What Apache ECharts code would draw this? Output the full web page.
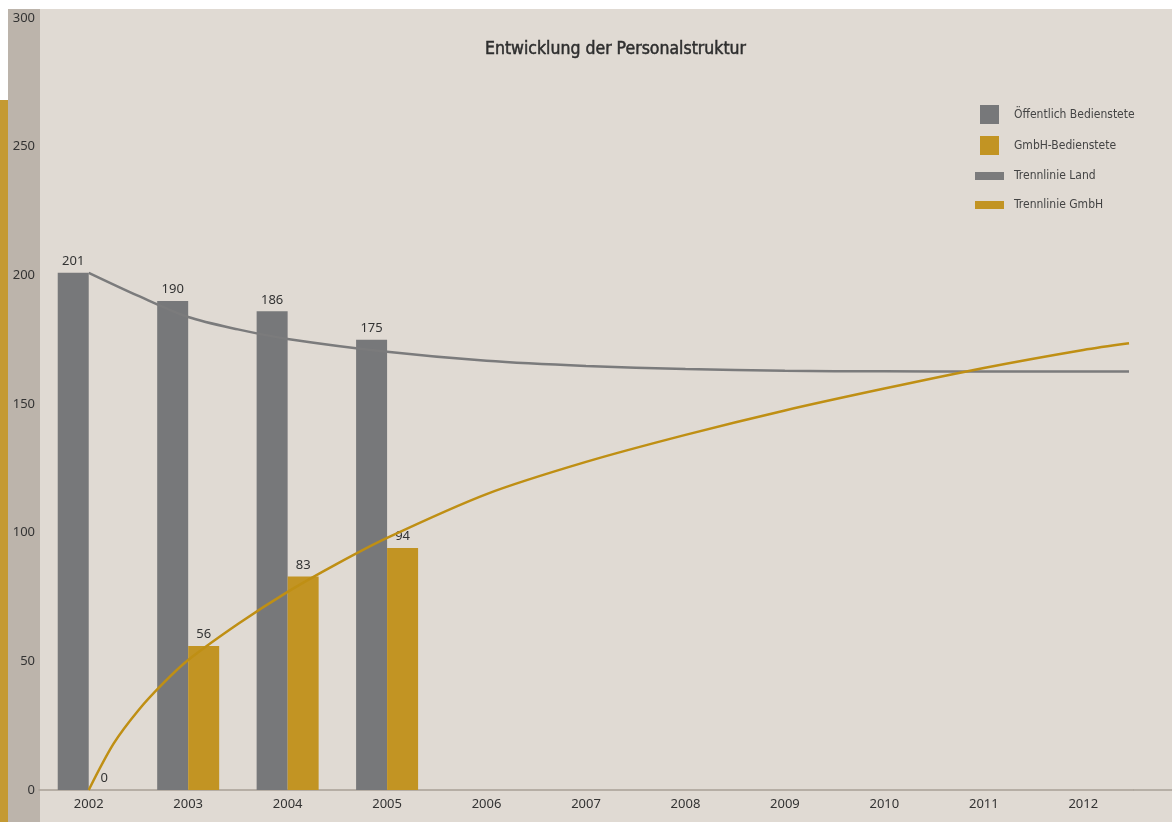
<!DOCTYPE html>
<html>
<head>
<meta charset="utf-8">
<script src="https://cdn.jsdelivr.net/npm/echarts@6/dist/echarts.min.js"></script>
<style>
html,body{margin:0;padding:0;background:#ffffff;}
#chart{width:1172px;height:822px;}
</style>
</head>
<body>
<div id="chart"></div>
<script>
const title = 'Entwicklung der Personalstruktur';
const years = ['2002','2003','2004','2005','2006','2007','2008','2009','2010','2011','2012'];
const yTicks = [0, 50, 100, 150, 200, 250, 300];
const oeffentlich = [201, 190, 186, 175, null, null, null, null, null, null, null];
const gmbh = [0, 56, 83, 94, null, null, null, null, null, null, null];
// trend lines: [category position, value]
const trendLand = [[0,201],[0.5,192],[1,183.8],[1.5,179],[2,175.3],[3,170.3],[4,166.8],[5,164.8],[6,163.6],[7,162.9],[8,162.7],[9,162.6],[10,162.6],[10.46,162.6]];
const trendGmbH = [[0,0],[0.25,18],[0.5,31],[0.75,41.5],[1,50.5],[1.5,64.5],[2,77],[2.5,88],[3,98],[4,115],[5,127.5],[6,138],[7,147.5],[8,156],[9,164],[10,171],[10.46,173.6]];
const names = ['Öffentlich Bedienstete','GmbH-Bedienstete','Trennlinie Land','Trennlinie GmbH'];

const GREY = '#77787a';
const GOLD = '#c29423';
const GOLDLINE = '#bf8f14';
const LINEGREY = '#7b7b7c';
const narrow = "'Liberation Sans Narrow','DejaVu Sans Condensed',sans-serif";
const numFont = "'Noto Sans','Open Sans',sans-serif";

const chart = echarts.init(document.getElementById('chart'), null, {renderer:'canvas'});
const labelStyle = {show:true, position:'top', distance:5, color:'#333', fontSize:13, fontFamily:numFont};

chart.setOption({
  backgroundColor:'#ffffff',
  animation:false,
  title:{text:title, left:480, top:35, textStyle:{fontFamily:narrow, fontSize:17.5, fontWeight:'normal', color:'#2e2e2e', textBorderColor:'#2e2e2e', textBorderWidth:0.5}},
  graphic:[
    {type:'rect', z:-10, shape:{x:8, y:9, width:1164, height:813}, style:{fill:'#e0dad3'}},
    {type:'rect', z:-9, shape:{x:8, y:9, width:32, height:813}, style:{fill:'#bcb4ab'}},
    {type:'rect', z:-9, shape:{x:0, y:100, width:8, height:722}, style:{fill:'#c49a33'}},
    {type:'line', z:1, shape:{x1:1133, y1:790, x2:1172, y2:790}, style:{stroke:'#a8a097', lineWidth:1.5}}
  ],
  legend:[
    {data:[names[0], names[1]], orient:'vertical', left:975, top:100, itemWidth:19, itemHeight:19, itemGap:12, icon:'rect',
     textStyle:{fontFamily:narrow, fontSize:12, color:'#444', padding:[0,0,0,10]}},
    {data:[names[2], names[3]], orient:'vertical', left:970, top:165, itemWidth:29, itemHeight:8, itemGap:17, icon:'rect',
     textStyle:{fontFamily:narrow, fontSize:12, color:'#444', padding:[0,0,0,5]}}
  ],
  grid:{left:39, right:39, top:18, bottom:32, containLabel:false},
  xAxis:[
    {type:'category', data:years, boundaryGap:true,
     axisLine:{show:true, lineStyle:{color:'#a8a097', width:1.5}}, axisTick:{show:false},
     axisLabel:{color:'#333', fontSize:13, fontFamily:numFont, margin:8}, splitLine:{show:false}},
    {type:'value', min:-0.5, max:10.5, show:false}
  ],
  yAxis:{type:'value', min:yTicks[0], max:yTicks[yTicks.length-1], interval:50,
    axisLine:{show:false}, axisTick:{show:false}, splitLine:{show:false},
    axisLabel:{color:'#333', fontSize:13, fontFamily:numFont, margin:4}},
  series:[
    {name:names[0], type:'bar', data:oeffentlich, barWidth:31, barGap:'0%', itemStyle:{color:GREY}, label:labelStyle, z:2},
    {name:names[1], type:'bar', data:gmbh, barWidth:31, barGap:'0%', itemStyle:{color:GOLD}, label:labelStyle, z:2},
    {name:names[2], type:'line', xAxisIndex:1, data:trendLand, smooth:0.3, showSymbol:false, symbol:'none',
     itemStyle:{color:LINEGREY}, lineStyle:{color:LINEGREY, width:2.5}, z:3},
    {name:names[3], type:'line', xAxisIndex:1, data:trendGmbH, smooth:0.3, showSymbol:false, symbol:'none',
     itemStyle:{color:GOLD}, lineStyle:{color:GOLDLINE, width:2.5}, z:4}
  ]
});
</script>
</body>
</html>
